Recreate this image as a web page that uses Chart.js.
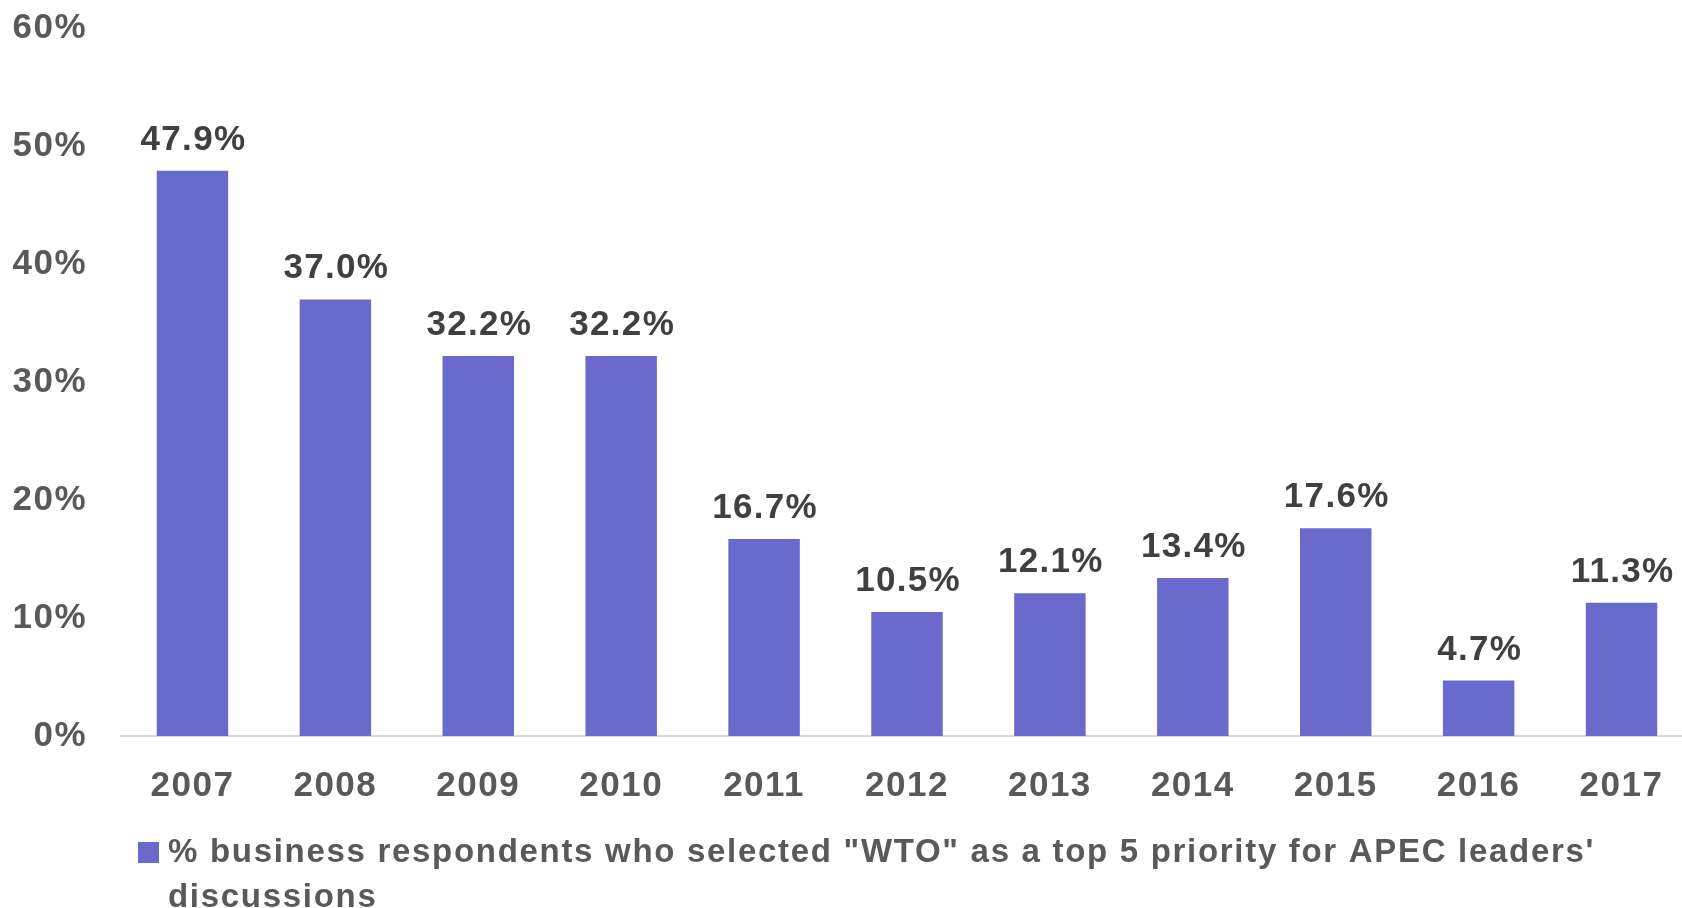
<!DOCTYPE html>
<html>
<head>
<meta charset="utf-8">
<script src="https://cdn.jsdelivr.net/npm/chart.js@4/dist/chart.umd.min.js"></script>
<style>
html,body{margin:0;padding:0;background:#fff;overflow:hidden;}
#wrap{width:1682px;height:908px;overflow:hidden;}
</style>
</head>
<body>
<div id="wrap"><canvas id="c" width="1700" height="908"></canvas></div>
<script>
const categories = ['2007','2008','2009','2010','2011','2012','2013','2014','2015','2016','2017'];
const values = [47.9, 37.0, 32.2, 32.2, 16.7, 10.5, 12.1, 13.4, 17.6, 4.7, 11.3];
const yTicks = [0, 10, 20, 30, 40, 50, 60];
const legendLines = ['% business respondents who selected "WTO" as a top 5 priority for APEC leaders\'', 'discussions'];
const seriesName = legendLines.join(' ');

const FONT = '"Liberation Sans", Arial, sans-serif';
const BAR = '#6A6ACD';
const SPACING = '1.5px';

const textSpacing = {
  id: 'textSpacing',
  beforeUpdate(chart) { chart.ctx.letterSpacing = SPACING; },
  beforeDraw(chart) { chart.ctx.letterSpacing = SPACING; }
};

const valueLabels = {
  id: 'valueLabels',
  afterDatasetsDraw(chart) {
    const ctx = chart.ctx;
    const meta = chart.getDatasetMeta(0);
    ctx.save();
    ctx.letterSpacing = '1.3px';
    ctx.font = 'bold 35px ' + FONT;
    ctx.fillStyle = '#404040';
    ctx.textAlign = 'center';
    ctx.textBaseline = 'alphabetic';
    meta.data.forEach((bar, i) => {
      ctx.fillText(values[i].toFixed(1) + '%', bar.x + 1, bar.y - 21);
    });
    ctx.restore();
  }
};

const customLegend = {
  id: 'customLegend',
  afterDraw(chart) {
    const ctx = chart.ctx;
    const left = chart.chartArea.left;
    ctx.save();
    ctx.fillStyle = BAR;
    ctx.fillRect(left + 17, 842, 21, 21);
    ctx.letterSpacing = '1.7px';
    ctx.font = 'bold 33px ' + FONT;
    ctx.fillStyle = '#595959';
    ctx.textAlign = 'left';
    ctx.textBaseline = 'middle';
    legendLines.forEach((line, i) => {
      ctx.fillText(line, left + 47, 853 + i * 45);
    });
    ctx.restore();
  }
};

new Chart(document.getElementById('c'), {
  type: 'bar',
  data: {
    labels: categories,
    datasets: [{
      label: seriesName,
      data: values,
      backgroundColor: BAR,
      borderWidth: 0,
      barPercentage: 0.5,
      categoryPercentage: 1.0
    }]
  },
  options: {
    responsive: false,
    animation: false,
    devicePixelRatio: 1,
    layout: { padding: { top: 28, right: 7, left: 0, bottom: 0 } },
    plugins: {
      legend: { display: false },
      tooltip: { enabled: false }
    },
    scales: {
      x: {
        grid: { display: false, drawTicks: false },
        border: { display: true, color: '#D9D9D9', width: 2 },
        ticks: {
          color: '#595959',
          font: { family: FONT, size: 35, weight: 'bold' },
          padding: 29,
          maxRotation: 0,
          autoSkip: false
        },
        afterFit(s) { s.height = 172; }
      },
      y: {
        min: 0,
        max: 60,
        afterBuildTicks(s) { s.ticks = yTicks.map(v => ({ value: v })); },
        grid: { display: false, drawTicks: false },
        border: { display: false },
        ticks: {
          color: '#595959',
          font: { family: FONT, size: 35, weight: 'bold' },
          padding: 34,
          callback: v => v + '%'
        },
        afterFit(s) { s.width = 121; s.paddingTop = 0; s.paddingBottom = 0; }
      }
    }
  },
  plugins: [textSpacing, valueLabels, customLegend]
});
</script>
</body>
</html>
